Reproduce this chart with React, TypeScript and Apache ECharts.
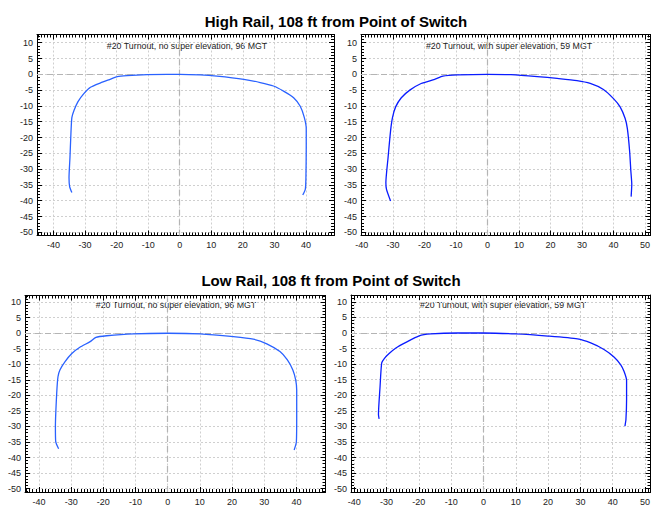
import React, { useEffect, useRef } from 'react';
import * as echarts from 'echarts';

// ---- data (x, y pairs) ----
const highRailNoSE: number[][] = [
  [-34.2, -37.4], [-34.9, -35.5], [-35.1, -32.7], [-34.8, -26.3], [-34.5, -18.8], [-34.2, -13.7],
  [-33.5, -11.4], [-32.3, -8.7], [-30.4, -6.1], [-28.3, -4.1], [-25.1, -2.7], [-21.9, -1.5],
  [-19.8, -0.7], [-16.7, -0.4], [-10.3, -0.1], [-4, 0], [0, 0], [6.5, -0.2], [11.8, -0.6],
  [20.3, -1.6], [25.5, -2.6], [29.7, -3.7], [32.9, -5.3], [36.1, -7.4], [38.2, -10.1],
  [39.5, -13.7], [40.1, -17.2], [40.1, -23.1], [40, -32.7], [39.8, -36.4], [39, -38.2],
];
const highRailSE: number[][] = [
  [-30.8, -40.1], [-32.1, -36.4], [-32.3, -34.3], [-31.6, -26.3], [-30.8, -17.8], [-30.2, -13.7],
  [-29.2, -10.3], [-27.4, -7.4], [-24.7, -5], [-21.1, -2.9], [-16.8, -1.6], [-14.2, -0.6],
  [-9.5, -0.2], [0, 0], [7.4, -0.1], [15.8, -0.7], [22.1, -1.3], [28.4, -2], [32.6, -2.9],
  [36.8, -4.8], [40, -7.7], [42.1, -10.3], [43.7, -14], [44.4, -17.2], [45.1, -24.1],
  [45.5, -30.5], [45.8, -34.8], [45.6, -38.7],
];
const lowRailNoSE: number[][] = [
  [-33.9, -37.2], [-34.8, -34.9], [-34.9, -30.1], [-34.5, -19.4], [-34.1, -14], [-33.5, -11.8],
  [-31.9, -9.1], [-29.8, -6.5], [-27.3, -4.5], [-24.1, -2.7], [-22.3, -1.3], [-19, -0.8],
  [-10.7, -0.2], [0, 0], [10, -0.2], [20.4, -1.1], [26.6, -1.9], [30.8, -3.4], [34.9, -5.9],
  [37.2, -8.6], [38.9, -11.8], [39.8, -15.1], [40.1, -18.3], [40.1, -26.9], [40, -34.9],
  [39.3, -37.6],
];
const lowRailSE: number[][] = [
  [-32.3, -27.6], [-32.5, -26.2], [-32, -17.1], [-31.5, -9.6], [-30.7, -8.2], [-29.2, -6.6],
  [-27.1, -4.8], [-24, -3], [-19.9, -0.9], [-16.3, -0.3], [-8, 0], [0, 0], [10, -0.3],
  [20, -1], [29.1, -1.9], [33.2, -3.2], [37.3, -5.3], [40.4, -7.7], [42.5, -10.2],
  [43.5, -12.3], [44.3, -15.2], [44.3, -21.4], [44.1, -27.8], [43.8, -29.9],
];

const titles = ['High Rail, 108 ft from Point of Switch', 'Low Rail, 108 ft from Point of Switch'];
const subtitles = [
  '#20 Turnout, no super elevation, 96 MGT',
  '#20 Turnout, with super elevation, 59 MGT',
  '#20 Turnout, no super elevation, 96 MGT',
  '#20 Turnout, with super elevation, 59 MGT',
];
const xTickStep = 10;
const yTickStep = 5;

// ---- layout ----
const panels = [
  { data: highRailNoSE, color: '#2a62ff', grid: { left: 37, top: 34.5, width: 297, height: 201 }, x: [-45.25, 48.9], y: [-51, 12.6], sub: subtitles[0], sx: 187, sy: 46 },
  { data: highRailSE, color: '#0a1cff', grid: { left: 361, top: 34.5, width: 291, height: 201 }, x: [-40.2, 51.7], y: [-51, 12.6], sub: subtitles[1], sx: 509, sy: 46 },
  { data: lowRailNoSE, color: '#2a62ff', grid: { left: 25, top: 295.5, width: 300.5, height: 197 }, x: [-44.35, 49.05], y: [-51.1, 12.15], sub: subtitles[2], sx: 176, sy: 305 },
  { data: lowRailSE, color: '#0a1cff', grid: { left: 351, top: 295, width: 301, height: 198 }, x: [-41, 51.7], y: [-51.05, 12.2], sub: subtitles[3], sx: 503, sy: 305 },
];

const FONT = 'Liberation Sans, Arial, Helvetica, sans-serif';

const fmt = (step: number) => (v: number) => {
  const r = v / step;
  return Math.abs(r - Math.round(r)) < 1e-6 ? String(Math.round(v)) : '';
};

function makeAxis(
  gridIndex: number, range: number[], step: number, minorSplit: number,
  position: string, main: boolean, isY: boolean,
) {
  return {
    type: 'value',
    gridIndex,
    position,
    min: range[0],
    max: range[1],
    minInterval: step,
    maxInterval: step,
    splitNumber: 8,
    axisLine: { show: true, onZero: false, lineStyle: { color: '#000', width: 1 } },
    axisTick: { show: true, inside: true, length: 5, lineStyle: { color: '#000', width: 1 } },
    minorTick: { show: true, splitNumber: minorSplit, length: 3, lineStyle: { color: '#000', width: 1 } },
    axisLabel: {
      show: main,
      margin: isY ? 4 : 5,
      fontSize: 9,
      fontFamily: FONT,
      color: '#222',
      formatter: fmt(step),
      showMinLabel: false,
      showMaxLabel: false,
    },
    splitLine: main
      ? { show: true, lineStyle: { color: '#cfcfcf', type: [2, 2], width: 1 } }
      : { show: false },
  };
}

function buildOption() {
  const grid: any[] = [];
  const xAxis: any[] = [];
  const yAxis: any[] = [];
  const series: any[] = [];
  const graphic: any[] = [];

  panels.forEach((p, i) => {
    grid.push({ ...p.grid, containLabel: false });
    xAxis.push(makeAxis(i, p.x, xTickStep, 10, 'bottom', true, false));
    xAxis.push(makeAxis(i, p.x, xTickStep, 10, 'top', false, false));
    yAxis.push(makeAxis(i, p.y, yTickStep, 5, 'left', true, true));
    yAxis.push(makeAxis(i, p.y, yTickStep, 5, 'right', false, true));
    series.push({
      type: 'line',
      xAxisIndex: 2 * i,
      yAxisIndex: 2 * i,
      data: p.data,
      showSymbol: false,
      symbol: 'none',
      smooth: 0.2,
      lineStyle: { color: p.color, width: 1.3 },
      z: 3,
      markLine: {
        silent: true,
        z: 1,
        symbol: ['none', 'none'],
        label: { show: false },
        lineStyle: { color: '#b4b4b4', type: [6, 4], width: 1.2 },
        data: [{ xAxis: 0 }, { yAxis: 0 }],
      },
    });
    graphic.push({
      type: 'text',
      x: p.sx,
      y: p.sy,
      style: { text: p.sub, font: `8.8px ${FONT}`, fill: '#222', align: 'center', verticalAlign: 'middle' },
    });
  });

  graphic.push({
    type: 'text', x: 336, y: 21,
    style: { text: titles[0], font: `bold 15px ${FONT}`, fill: '#000', align: 'center', verticalAlign: 'middle' },
  });
  graphic.push({
    type: 'text', x: 331, y: 280,
    style: { text: titles[1], font: `bold 15px ${FONT}`, fill: '#000', align: 'center', verticalAlign: 'middle' },
  });

  return {
    animation: false,
    backgroundColor: '#fff',
    grid,
    xAxis,
    yAxis,
    series,
    graphic,
  };
}

export default function App() {
  const ref = useRef<HTMLDivElement>(null);
  useEffect(() => {
    if (!ref.current) return;
    const chart = echarts.init(ref.current, null, { renderer: 'svg' });
    chart.setOption(buildOption() as any);
    return () => chart.dispose();
  }, []);
  return (
    <div
      ref={ref}
      style={{ position: 'fixed', left: 0, top: 0, width: 653, height: 506, background: '#fff' }}
    />
  );
}
